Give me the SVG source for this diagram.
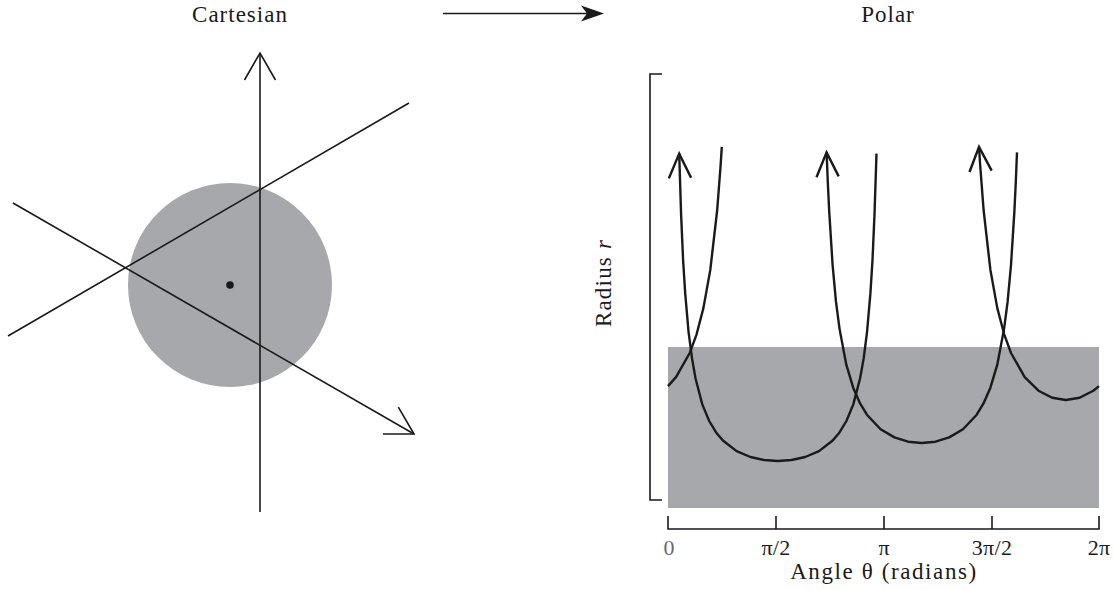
<svg xmlns="http://www.w3.org/2000/svg" width="1114" height="590" viewBox="0 0 1114 590">
<style>
.ln{fill:none;stroke:#1a1a1a;stroke-width:1.6}
.cv{fill:none;stroke:#1a1a1a;stroke-width:2.4;stroke-linejoin:round}
.t{font-family:"Liberation Serif","DejaVu Serif",serif;fill:#1a1a1a}
.shade{fill:#a7a8ab}
</style>
<defs>
<marker id="openL" markerUnits="userSpaceOnUse" markerWidth="40" markerHeight="40" refX="0" refY="0" viewBox="-30 -20 32 40" orient="auto" overflow="visible">
<path d="M-27,-15.5 L0,0 L-27,15.5" fill="none" stroke="#1a1a1a" stroke-width="1.6"/>
</marker>
<marker id="openS" markerUnits="userSpaceOnUse" markerWidth="30" markerHeight="30" refX="0" refY="0" viewBox="-25 -12 27 24" orient="auto-start-reverse" overflow="visible">
<path d="M-22,-10 L0,0 L-22,10" fill="none" stroke="#1a1a1a" stroke-width="2.2"/>
</marker>
</defs>

<g id="title-cartesian"><text class="t" x="240" y="22" font-size="23" letter-spacing="1" text-anchor="middle">Cartesian</text></g>
<g id="title-polar"><text class="t" x="888" y="22" font-size="23" letter-spacing="1" text-anchor="middle">Polar</text></g>

<g id="cartesian-plot">
<circle class="shade" cx="230" cy="285" r="102"/>
<circle cx="230" cy="285" r="3.8" fill="#1a1a1a"/>
</g>

<g id="polar-plot">
<rect class="shade" x="668" y="347" width="431" height="161"/>
<path class="ln" d="M662,74 H650 V500 H662"/>
<text class="t" font-size="23" letter-spacing="1.2" text-anchor="middle" transform="translate(611,283) rotate(-90)">Radius <tspan font-style="italic">r</tspan></text>
<path class="ln" d="M668,516 V529 H1099 V516 M776,516 V529 M884,516 V529 M992,516 V529"/>
<g class="t" font-size="22" text-anchor="middle">
<text x="669" y="555" fill="#6a6a6a">0</text>
<text x="776" y="555" letter-spacing="0.3">π/2</text>
<text x="884" y="555">π</text>
<text x="992" y="555" letter-spacing="0.3">3π/2</text>
<text x="1099" y="555" letter-spacing="0.3">2π</text>
<text x="884" y="579" font-size="23" letter-spacing="1.6">Angle θ (radians)</text>
</g>
</g>

<g id="connectors">
<line class="ln" x1="443" y1="13.5" x2="590" y2="13.5"/>
<polygon points="581,5.5 604,13.5 581,21.5 587,13.5" fill="#1a1a1a"/>
<line class="ln" x1="260" y1="512" x2="260" y2="53" marker-end="url(#openL)"/>
<line class="ln" x1="8" y1="336" x2="409" y2="103"/>
<line class="ln" x1="13" y1="203" x2="414" y2="434" marker-end="url(#openL)"/>

<path class="cv" marker-start="url(#openS)" d="M679.2,153.6 L681.1,214.4 L683.1,260.1 L685.2,293.4 L688.6,332.3 L692.1,358.9 L695.5,378.3 L702.3,404.4 L709.2,421.0 L716.1,432.4 L722.9,440.5 L736.6,451.1 L750.4,457.0 L764.1,460.0 L777.8,461 L791.5,460.0 L805.2,457.0 L819.0,451.1 L832.7,440.5 L839.5,432.4 L846.4,421.0 L853.3,404.4 L860.1,378.3 L863.6,358.9 L867.0,332.3 L870.4,293.4 L872.5,260.1 L874.5,214.4 L876.5,153.6"/>
<path class="cv" marker-start="url(#openS)" d="M826.6,152.4 L827.8,182.0 L829.2,211.2 L832.6,265.0 L836.0,301.9 L839.5,328.6 L846.3,364.7 L853.2,387.7 L860.1,403.4 L866.9,414.7 L880.6,429.2 L894.4,437.4 L908.1,441.7 L921.8,443 L935.5,441.7 L949.2,437.4 L963.0,429.2 L976.7,414.7 L983.5,403.4 L990.4,387.7 L997.3,364.7 L1004.1,328.6 L1007.6,301.9 L1011.0,265.0 L1014.4,211.2 L1015.8,182.0 L1017.0,152.4"/>
<path class="cv" marker-start="url(#openS)" d="M979.0,146.9 L980.2,165.5 L983.6,210.0 L990.4,269.9 L997.3,308.1 L1004.2,334.3 L1011.0,353.0 L1024.7,377.1 L1038.5,390.7 L1052.2,397.8 L1065.9,400 L1079.6,397.8 L1093.3,390.7 L1099,386.1"/>
<path class="cv" d="M668,386.1 L676.0,377.1 L689.7,353.0 L696.6,334.3 L703.4,308.1 L710.3,269.9 L717.2,210.0 L720.6,165.5 L721.8,146.9"/>
</g>
</svg>
